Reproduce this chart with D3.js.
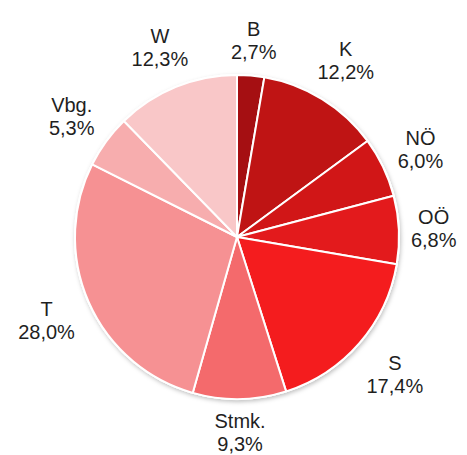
<!DOCTYPE html>
<html>
<head>
<meta charset="utf-8">
<script src="https://cdn.jsdelivr.net/npm/d3@7"></script>
<style>
  body { margin: 0; background: #fff; }
  text { font-family: "Liberation Sans", Arial, sans-serif; fill: #1f1f1f; }
</style>
</head>
<body>
<svg id="chart" width="467" height="455"></svg>
<script>
// Anteile nach Bundesland
const regions = ["B", "K", "NÖ", "OÖ", "S", "Stmk.", "T", "Vbg.", "W"];
const shares = [2.7, 12.2, 6.0, 6.8, 17.4, 9.3, 28.0, 5.3, 12.3];
const colors = ["#a50f12", "#bf1414", "#d11617", "#e31a1c", "#f41c1e", "#f46a6c", "#f69193", "#f7adae", "#f9c7c8"];

const data = regions.map((r, i) => ({ name: r, val: shares[i] }));

const svg = d3.select("#chart"),
    cx = 237, cy = 237, radius = 162;

// soft shadow round the pie
const defs = svg.append("defs");
const f = defs.append("filter").attr("id", "shadow")
    .attr("x", "-20%").attr("y", "-20%").attr("width", "140%").attr("height", "140%");
f.append("feDropShadow").attr("dx", 1).attr("dy", 2).attr("stdDeviation", 2)
    .attr("flood-color", "#000").attr("flood-opacity", 0.25);

const g = svg.append("g").attr("transform", "translate(" + cx + "," + cy + ")");

const pie = d3.pie().sort(null).value(d => d.val);
const arc = d3.arc().innerRadius(0).outerRadius(radius);
const arcs = pie(data);

g.append("circle").attr("r", radius + 1).attr("fill", "#fff").attr("filter", "url(#shadow)");

g.selectAll(".slice")
  .data(arcs)
  .enter().append("path")
    .attr("class", "slice")
    .attr("d", arc)
    .attr("fill", (d, i) => colors[i])
    .attr("stroke", "#fff")
    .attr("stroke-width", 2)
    .attr("stroke-linejoin", "round");

const fmt = v => v.toFixed(1).replace(".", ",") + "%";
const fontSize = 20, lineH = 23, gap = 11;

const labels = g.selectAll(".label")
  .data(arcs)
  .enter().append("text")
    .attr("class", "label")
    .attr("text-anchor", "middle")
    .style("font-size", fontSize + "px");

labels.each(function(d) {
    const t = d3.select(this);
    t.append("tspan").attr("x", 0).attr("dy", 0).text(d.data.name);
    t.append("tspan").attr("x", 0).attr("dy", lineH).text(fmt(d.data.val));
    const bb = this.getBBox();
    const a = (d.startAngle + d.endAngle) / 2;
    const s = Math.sin(a), c = -Math.cos(a);
    const off = radius + gap + Math.abs(s) * bb.width / 2 + Math.abs(c) * bb.height / 2;
    const x = s * off, y = c * off;
    // centre the two lines on (x, y)
    const dy = y - (bb.y + bb.height / 2);
    t.attr("transform", "translate(" + x + "," + dy + ")");
});
</script>
</body>
</html>
